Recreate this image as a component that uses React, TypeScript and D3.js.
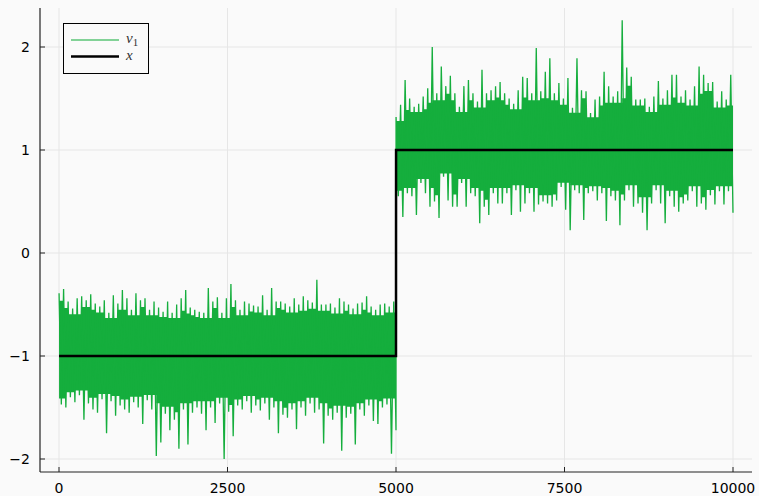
import * as d3 from 'd3';

// step signal x
const xIdx = [1, 5000, 5001, 10000];
const xVal = [-1, -1, 1, 1];

// v1, first half: local maxima / minima (left to right)
const v1PeaksA = [
  -0.39, -0.35, -0.47, -0.54, -0.44, -0.42, -0.46, -0.4, -0.49, -0.52, -0.46, -0.58, -0.41, -0.49, -0.36,
  -0.44, -0.55, -0.39, -0.46, -0.44, -0.55, -0.47, -0.53, -0.57, -0.47, -0.58, -0.5, -0.44, -0.36, -0.53,
  -0.55, -0.57, -0.58, -0.34, -0.47, -0.43, -0.58, -0.44, -0.3, -0.46, -0.55, -0.47, -0.49, -0.51, -0.52,
  -0.41, -0.55, -0.34, -0.47, -0.47, -0.49, -0.52, -0.44, -0.5, -0.42, -0.46, -0.48, -0.26, -0.5, -0.5,
  -0.49, -0.53, -0.44, -0.47, -0.5, -0.54, -0.49, -0.48, -0.42, -0.52, -0.55, -0.5, -0.49, -0.52, -0.47,
];
const v1TroughsA = [
  -1.47, -1.5, -1.4, -1.45, -1.38, -1.62, -1.46, -1.52, -1.55, -1.42, -1.75, -1.44, -1.58, -1.48, -1.52,
  -1.55, -1.45, -1.5, -1.66, -1.43, -1.52, -1.97, -1.84, -1.56, -1.72, -1.62, -1.9, -1.52, -1.86, -1.55,
  -1.5, -1.56, -1.72, -1.5, -1.65, -1.46, -2.0, -1.54, -1.78, -1.48, -1.52, -1.44, -1.55, -1.48, -1.53,
  -1.46, -1.62, -1.5, -1.75, -1.57, -1.6, -1.52, -1.71, -1.5, -1.58, -1.46, -1.55, -1.52, -1.85, -1.58,
  -1.62, -1.55, -1.92, -1.6, -1.56, -1.86, -1.52, -1.58, -1.48, -1.63, -1.66, -1.5, -1.47, -1.95, -1.72,
];

// v1, second half
const v1PeaksB = [
  1.32, 1.44, 1.68, 1.5, 1.42, 1.45, 1.52, 1.6, 2.0, 1.55, 1.81, 1.62, 1.72, 1.55, 1.42,
  1.62, 1.68, 1.55, 1.47, 1.78, 1.55, 1.58, 1.62, 1.66, 1.55, 1.5, 1.45, 1.58, 1.71, 1.7,
  1.55, 1.99, 1.57, 1.76, 1.89, 1.55, 1.65, 1.5, 1.7, 1.41, 1.89, 1.58, 1.57, 1.36, 1.49,
  1.52, 1.76, 1.62, 1.52, 1.57, 2.26, 1.8, 1.71, 1.49, 1.49, 1.5, 1.42, 1.52, 1.67, 1.5,
  1.58, 1.73, 1.73, 1.52, 1.58, 1.49, 1.62, 1.81, 1.73, 1.65, 1.66, 1.47, 1.57, 1.49, 1.73,
];
const v1TroughsB = [
  0.55, 0.35, 0.58, 0.55, 0.37, 0.68, 0.58, 0.45, 0.5, 0.34, 0.74, 0.51, 0.45, 0.45, 0.68,
  0.45, 0.58, 0.55, 0.29, 0.45, 0.37, 0.58, 0.48, 0.48, 0.58, 0.37, 0.61, 0.4, 0.48, 0.58,
  0.4, 0.47, 0.5, 0.48, 0.45, 0.51, 0.64, 0.42, 0.22, 0.61, 0.58, 0.32, 0.58, 0.6, 0.51,
  0.58, 0.31, 0.55, 0.51, 0.27, 0.51, 0.61, 0.45, 0.48, 0.39, 0.22, 0.48, 0.61, 0.48, 0.29,
  0.55, 0.45, 0.4, 0.48, 0.51, 0.6, 0.45, 0.48, 0.42, 0.56, 0.47, 0.6, 0.47, 0.6, 0.39,
];

const xTicks = [0, 2500, 5000, 7500, 10000];
const yTicks = [-2, -1, 0, 1, 2];

const W = 759;
const H = 496;
const plot = { left: 40, right: 752, top: 8, bottom: 472 };
const green = '#15ae3d';

type Pt = [number, number];

function positions(n: number, offset: number) {
  const step = 4999 / (n * 2 - 1);
  return d3.range(n).map((k) => [offset + 1 + 2 * k * step, offset + 1 + (2 * k + 1) * step]);
}

function interleave(peaks: number[], troughs: number[], offset: number) {
  const pos = positions(peaks.length, offset);
  const pts: Pt[] = [];
  peaks.forEach((p, k) => {
    pts.push([pos[k][0], p]);
    pts.push([pos[k][1], troughs[k]]);
  });
  return pts;
}

// dense part of the noise: most samples stay inside the least extreme of three neighbouring extremes
function skyline(vals: number[], offset: number, which: 0 | 1, end: number, base: number) {
  const pos = positions(vals.length, offset);
  const pts: Pt[] = vals.map((v, k) => {
    const near = vals.slice(Math.max(0, k - 1), k + 2);
    const edge = d3.least(near, (d) => Math.abs(d - base)) as number;
    return [pos[k][which], base + (edge - base) * 0.88];
  });
  pts.unshift([offset + 1, pts[0][1]]);
  pts.push([end, pts[pts.length - 1][1]]);
  return pts;
}

export default function App() {
  const x = d3.scaleLinear().domain([0, 10000]).range([59, 733]);
  const y = d3.scaleLinear().domain([-2, 2]).range([459, 47]);

  const v1 = [...interleave(v1PeaksA, v1TroughsA, 0), ...interleave(v1PeaksB, v1TroughsB, 5000)];
  const line = d3
    .line<Pt>()
    .x((d) => x(d[0]))
    .y((d) => y(d[1]));

  const fills = [
    { pts: skyline(v1PeaksA, 0, 0, 5000, xVal[0]), base: xVal[0] },
    { pts: skyline(v1TroughsA, 0, 1, 5000, xVal[0]), base: xVal[0] },
    { pts: skyline(v1PeaksB, 5000, 0, 10000, xVal[2]), base: xVal[2] },
    { pts: skyline(v1TroughsB, 5000, 1, 10000, xVal[2]), base: xVal[2] },
  ];

  const stepLine = line(xIdx.map((d, i) => [d, xVal[i]]));

  return (
    <div style={{ position: 'fixed', left: 0, top: 0 }}>
      <svg width={W} height={H} style={{ display: 'block', background: '#fafafa' }}>
        <rect x={0} y={0} width={W} height={H} fill="#fafafa" />
        {/* grid */}
        {xTicks.map((t) => (
          <line key={'gx' + t} x1={x(t)} x2={x(t)} y1={plot.top} y2={plot.bottom} stroke="#e6e6e6" strokeWidth={1} />
        ))}
        {yTicks.map((t) => (
          <line key={'gy' + t} x1={plot.left} x2={plot.right} y1={y(t)} y2={y(t)} stroke="#e6e6e6" strokeWidth={1} />
        ))}

        {/* v1 */}
        {fills.map((f, i) => {
          const area = d3
            .area<Pt>()
            .curve(d3.curveStepAfter)
            .x((d) => x(d[0]))
            .y0(y(f.base))
            .y1((d) => y(d[1]));
          return <path key={'fill' + i} d={area(f.pts) || ''} fill={green} />;
        })}
        <path d={line(v1) || ''} fill="none" stroke={green} strokeWidth={1.3} />

        {/* x */}
        <path d={stepLine || ''} fill="none" stroke="#000" strokeWidth={2.5} />

        {/* axes */}
        <line x1={plot.left} x2={plot.left} y1={plot.top} y2={plot.bottom} stroke="#222" strokeWidth={1.2} />
        <line x1={plot.left} x2={plot.right} y1={plot.bottom} y2={plot.bottom} stroke="#222" strokeWidth={1.2} />
        {xTicks.map((t) => (
          <g key={'tx' + t}>
            <line x1={x(t)} x2={x(t)} y1={plot.bottom} y2={plot.bottom - 5} stroke="#222" strokeWidth={1} />
            <text x={x(t)} y={493} textAnchor="middle" fontFamily="DejaVu Sans" fontSize={14} fill="#000">
              {t}
            </text>
          </g>
        ))}
        {yTicks.map((t) => (
          <g key={'ty' + t}>
            <line x1={plot.left} x2={plot.left + 5} y1={y(t)} y2={y(t)} stroke="#222" strokeWidth={1} />
            <text x={30} y={y(t) + 5} textAnchor="end" fontFamily="DejaVu Sans" fontSize={14} fill="#000">
              {t < 0 ? '\u2212' + Math.abs(t) : t}
            </text>
          </g>
        ))}

        {/* legend */}
        <rect x={63.5} y={23.5} width={85} height={50} fill="#fafafa" stroke="#000" strokeWidth={1} />
        <line x1={71} x2={119} y1={40} y2={40} stroke={green} strokeOpacity={0.7} strokeWidth={1.3} />
        <line x1={71} x2={119} y1={56.5} y2={56.5} stroke="#000" strokeWidth={2.5} />
        <text x={126} y={43} fontFamily="Liberation Serif" fontSize={15} fill="#333">
          <tspan fontStyle="italic">v</tspan>
          <tspan fontSize={11} dy={3}>1</tspan>
        </text>
        <text x={126} y={60} fontFamily="Liberation Serif" fontSize={15} fontStyle="italic" fill="#333">
          x
        </text>
      </svg>
    </div>
  );
}
